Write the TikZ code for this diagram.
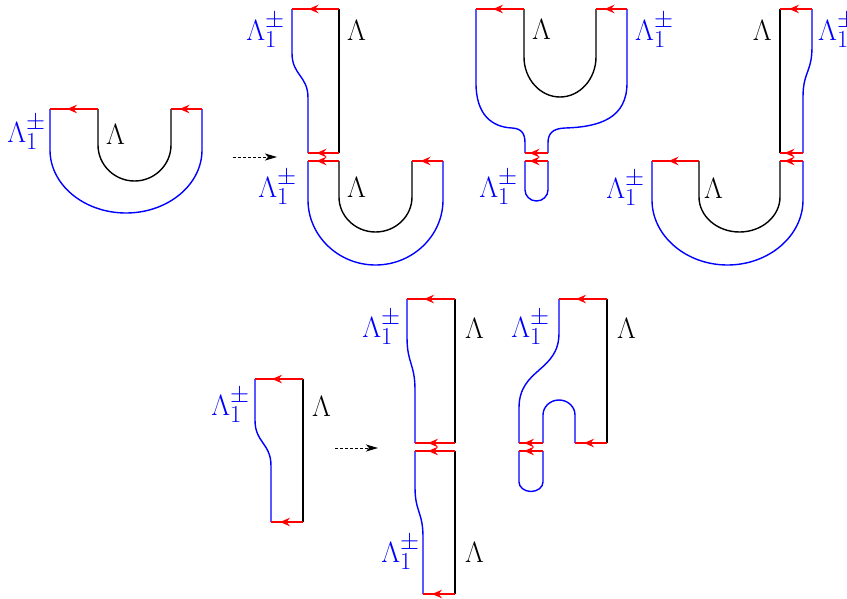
\documentclass[tikz,border=0pt]{standalone}
\usetikzlibrary{arrows.meta}
\newcommand\rseg[3]{%
  \draw[rd] (#1,#3) -- (#2,#3);
  \draw[rtip] ({(#1+#2)/2+5},#3) -- ({(#1+#2)/2-7},#3);}
\begin{document}
\begin{tikzpicture}[x=1pt,y=-1pt,
  bl/.style={blue,line width=1.4pt},
  bk/.style={black,line width=1.4pt},
  rd/.style={red,line width=1.5pt},
  rtip/.style={red,line width=1.5pt,-{Stealth[length=10pt,width=8.5pt,inset=3.5pt]}},
  lab/.style={text=blue,inner sep=0pt,font=\Huge,scale=1.18},
  blab/.style={text=black,inner sep=0pt,font=\Huge,scale=1.18},
  dasharrow/.style={black,line width=1pt,dash pattern=on 3pt off 2pt,-{Stealth[length=12pt,width=7pt,inset=3pt]}}]
\useasboundingbox (0,0) rectangle (847,598);

% ---------- Figure 1 ----------
\draw[bl] (50,109) -- (50,150) .. controls (50,184.8) and (84.1,213) .. (126,213) .. controls (167.9,213) and (202,184.8) .. (202,150) -- (202,109);
\draw[bk] (98,109) -- (98,145) .. controls (98,164.8) and (114.4,181) .. (134.5,181) .. controls (154.6,181) and (171,164.8) .. (171,145) -- (171,109);
\rseg{50}{98}{109}
\rseg{171}{202}{109}
\node[lab,anchor=base east] (f1a) at (46,142) {$\Lambda_1^{\pm}$};
\node[blab,anchor=base west] (f1b) at (106,144) {$\Lambda$};

\coordinate (d1s) at (233,157);
\coordinate (d1e) at (277,157);
\draw[dasharrow] (d1s) -- (d1e);

% ---------- Figure 2 ----------
\draw[bl] (292,9) -- (292,53) .. controls (292,75.5) and (308,75.5) .. (308,98) -- (308,153);
\draw[bk] (339,9) -- (339,153);
\rseg{292}{339}{9}
\rseg{308}{339}{153}
\node[lab,anchor=base east] (f2a) at (285,40) {$\Lambda_1^{\pm}$};
\node[blab,anchor=base west] (f2b) at (347,40) {$\Lambda$};

\draw[bl] (308,161) -- (308,200) .. controls (308,235.75) and (338.4,265) .. (375.5,265) .. controls (412.6,265) and (443,235.75) .. (443,200) -- (443,161);
\draw[bk] (339,161) -- (339,197) .. controls (339,216.25) and (355.4,232) .. (375.5,232) .. controls (395.6,232) and (412,216.25) .. (412,197) -- (412,161);
\rseg{308}{339}{161}
\rseg{412}{443}{161}
\node[lab,anchor=base east] (f2c) at (297,197) {$\Lambda_1^{\pm}$};
\node[blab,anchor=base west] (f2d) at (347,197) {$\Lambda$};

% ---------- Figure 3 ----------
\draw[bk] (524,9) -- (524,57) .. controls (524,79) and (540.2,97) .. (560,97) .. controls (579.8,97) and (596,79) .. (596,57) -- (596,9);
\draw[bl] (476,9) -- (476,83) .. controls (476,115) and (492,127) .. (512,128) .. controls (522,128.5) and (525,134) .. (525,143) -- (525,153);
\draw[bl] (627,9) -- (627,83) .. controls (627,118) and (600,127) .. (565,128) .. controls (552,128.5) and (548,134) .. (548,143) -- (548,153);
\draw[bl] (525,161) -- (525,190) .. controls (525,196) and (530.2,201) .. (536.5,201) .. controls (542.8,201) and (548,196) .. (548,190) -- (548,161);
\rseg{476}{524}{9}
\rseg{596}{627}{9}
\rseg{525}{548}{153}
\rseg{525}{548}{161}
\node[blab,anchor=base west] (f3a) at (532,39) {$\Lambda$};
\node[lab,anchor=base west] (f3b) at (635,40) {$\Lambda_1^{\pm}$};
\node[lab,anchor=base east] (f3c) at (518,197) {$\Lambda_1^{\pm}$};

% ---------- Figure 4 ----------
\draw[bl] (812,9) -- (812,47) .. controls (812,72) and (803,72) .. (803,97) -- (803,153);
\draw[bk] (780,9) -- (780,153);
\rseg{780}{812}{9}
\rseg{780}{803}{153}
\node[blab,anchor=base east] (f4a) at (772,40) {$\Lambda$};
\node[lab,anchor=base west] (f4b) at (818,40) {$\Lambda_1^{\pm}$};

\draw[bl] (652,161) -- (652,200) .. controls (652,235.75) and (686,265) .. (727.5,265) .. controls (769,265) and (803,235.75) .. (803,200) -- (803,161);
\draw[bk] (699,161) -- (699,197) .. controls (699,216.25) and (717.2,232) .. (739.5,232) .. controls (761.8,232) and (780,216.25) .. (780,197) -- (780,161);
\rseg{652}{699}{161}
\rseg{780}{803}{161}
\node[lab,anchor=base east] (f4c) at (645,198) {$\Lambda_1^{\pm}$};
\node[blab,anchor=base west] (f4d) at (704,198) {$\Lambda$};

% ---------- Figure 5 ----------
\draw[bl] (255,379) -- (255,420) .. controls (255,443) and (271,443) .. (271,466) -- (271,522);
\draw[bk] (303,379) -- (303,522);
\rseg{255}{303}{379}
\rseg{271}{303}{522}
\node[lab,anchor=base east] (f5a) at (250,415) {$\Lambda_1^{\pm}$};
\node[blab,anchor=base west] (f5b) at (312,416) {$\Lambda$};

\coordinate (d2s) at (335,448);
\coordinate (d2e) at (378,448);
\draw[dasharrow] (d2s) -- (d2e);

% ---------- Figure 6 ----------
\draw[bl] (407,299) -- (407,337) .. controls (407,363.5) and (415,363.5) .. (415,390) -- (415,443);
\draw[bk] (455,299) -- (455,443);
\rseg{407}{455}{299}
\rseg{415}{455}{443}
\node[lab,anchor=base east] (f6a) at (401,337) {$\Lambda_1^{\pm}$};
\node[blab,anchor=base west] (f6b) at (465,338) {$\Lambda$};

\draw[bl] (415,451) -- (415,487) .. controls (415,512) and (423,512) .. (423,537) -- (423,594);
\draw[bk] (455,451) -- (455,594);
\rseg{415}{455}{451}
\rseg{423}{455}{594}
\node[lab,anchor=base east] (f6c) at (420,562) {$\Lambda_1^{\pm}$};
\node[blab,anchor=base west] (f6d) at (465,562) {$\Lambda$};

% ---------- Figure 7 ----------
\draw[bk] (607,299) -- (607,443);
\draw[bl] (559,299) -- (559,333) .. controls (559,372) and (519,368) .. (519,408) -- (519,443);
\draw[bl] (543,443) -- (543,415) .. controls (543,406.7) and (550.2,400) .. (559,400) .. controls (567.8,400) and (575,406.7) .. (575,415) -- (575,443);
\draw[bl] (519,451) -- (519,482) .. controls (519,487.2) and (524.4,491.5) .. (531,491.5) .. controls (537.6,491.5) and (543,487.2) .. (543,482) -- (543,451);
\rseg{559}{607}{299}
\rseg{575}{607}{443}
\rseg{519}{543}{443}
\rseg{519}{543}{451}
\node[lab,anchor=base east] (f7a) at (550,337) {$\Lambda_1^{\pm}$};
\node[blab,anchor=base west] (f7b) at (617,338) {$\Lambda$};
\end{tikzpicture}
\end{document}
